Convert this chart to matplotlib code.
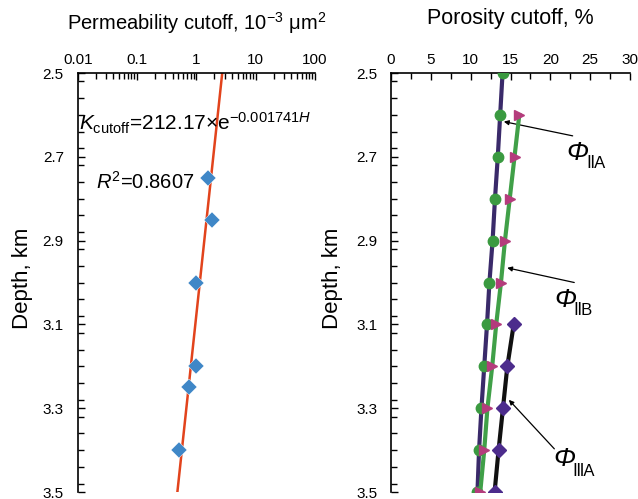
import numpy as np
import matplotlib
matplotlib.use("Agg")
import matplotlib.pyplot as plt
from matplotlib.ticker import MultipleLocator, LogLocator, FixedLocator, NullFormatter

plt.rcParams['font.family'] = ['Liberation Sans', 'DejaVu Sans']
plt.rcParams['mathtext.fontset'] = 'custom'
plt.rcParams['mathtext.rm'] = 'Liberation Sans'
plt.rcParams['mathtext.it'] = 'Liberation Sans:italic'

# permeability cutoff samples (depth km, 10^-3 um^2)
perm_depth = [2.75, 2.85, 3.00, 3.20, 3.25, 3.40]
perm_cutoff = [1.57, 1.82, 0.98, 1.00, 0.75, 0.51]

# exponential fit K = a * exp(-b * H), H in m
fit_a = 212.17
fit_b = 0.001741
fit_r2 = 0.8607

# porosity cutoff curves (depth km, %)
depth_IIA = [2.5, 2.6, 2.7, 2.8, 2.9, 3.0, 3.1, 3.2, 3.3, 3.4, 3.5]
phi_IIA = [14.0, 13.7, 13.4, 13.05, 12.75, 12.35, 12.05, 11.7, 11.35, 11.05, 10.85]
depth_IIB = [2.6, 2.7, 2.8, 2.9, 3.0, 3.1, 3.2, 3.3, 3.4, 3.5]
phi_IIB = [16.1, 15.5, 14.9, 14.3, 13.8, 13.2, 12.7, 12.1, 11.7, 11.2]
depth_IIIA = [3.1, 3.2, 3.3, 3.4, 3.5]
phi_IIIA = [15.4, 14.6, 14.05, 13.5, 13.0]

fig = plt.figure(figsize=(6.38, 4.99), dpi=100)
ax1 = fig.add_axes([0.1218, 0.014, 0.3719, 0.8397])
ax2 = fig.add_axes([0.6129, 0.014, 0.3746, 0.8397])

for ax in (ax1, ax2):
    ax.spines['right'].set_visible(False)
    ax.spines['bottom'].set_visible(False)
    ax.spines['top'].set_linewidth(1.2)
    ax.spines['left'].set_linewidth(1.2)
    ax.xaxis.tick_top()
    ax.set_ylim(3.5, 2.5)
    ax.yaxis.set_major_locator(FixedLocator([2.5, 2.7, 2.9, 3.1, 3.3, 3.5]))
    ax.yaxis.set_minor_locator(MultipleLocator(0.04))
    ax.tick_params(which='both', direction='in', labelsize=11, width=1)
    ax.tick_params(which='major', length=5)
    ax.tick_params(which='minor', length=4)
    ax.tick_params(axis='y', pad=10)
    ax.tick_params(axis='x', pad=4)
    ax.set_ylabel('Depth, km', fontsize=16)

ax1.yaxis.set_label_coords(-0.19, 0.51)
ax2.yaxis.set_label_coords(-0.2, 0.51)

# permeability panel
H = np.linspace(2500, 3500, 200)
ax1.plot(fit_a * np.exp(-fit_b * H), H / 1000, color='#E2431C', lw=1.8, zorder=2)
ax1.plot(perm_cutoff, perm_depth, 'D', color='#3F87C7', ms=8, mec='white', mew=0.3, zorder=3)
ax1.set_xscale('log')
ax1.set_xlim(0.01, 100)
ax1.xaxis.set_minor_locator(LogLocator(base=10, subs=np.arange(2, 10)))
ax1.xaxis.set_minor_formatter(NullFormatter())
ax1.set_xticks([0.01, 0.1, 1, 10, 100])
ax1.set_xticklabels(['0.01', '0.1', '1', '10', '100'])
ax1.set_title('Permeability cutoff, 10$^{-3}$ μm$^2$', fontsize=14.5, pad=31)
ax1.text(0.0105, 2.62, r'$K_{\rm cutoff}$=%.2f×e$^{-%.6f\mathit{H}}$' % (fit_a, fit_b),
         fontsize=15, va='center', ha='left')
ax1.text(0.0204, 2.76, r'$R^2$=%.4f' % fit_r2, fontsize=14.5, va='center', ha='left')

# porosity panel
ax2.plot(phi_IIA, depth_IIA, '-', color='#3A2A6A', lw=3, zorder=2)
ax2.plot(phi_IIA, depth_IIA, 'o', color='#3A9A40', ms=7.5, zorder=3)
ax2.plot(phi_IIB, depth_IIB, '-', color='#40A048', lw=3, zorder=4)
ax2.plot(phi_IIB, depth_IIB, '>', color='#B43C7C', ms=7.5, zorder=5)
ax2.plot(phi_IIIA, depth_IIIA, '-', color='#111111', lw=3, zorder=6)
ax2.plot(phi_IIIA, depth_IIIA, 'D', color='#4C2C8C', ms=7, zorder=7)
ax2.set_xlim(0, 30)
ax2.xaxis.set_major_locator(MultipleLocator(5))
ax2.xaxis.set_minor_locator(MultipleLocator(2.5))
ax2.set_title('Porosity cutoff, %', fontsize=15.5, pad=35)

arrow = dict(arrowstyle='-|>', color='black', lw=0.9, mutation_scale=7, shrinkA=0, shrinkB=0)
ax2.annotate('', xy=(14.16, 2.616), xytext=(22.8, 2.65), arrowprops=arrow)
ax2.annotate('', xy=(14.58, 2.965), xytext=(23.0, 3.0), arrowprops=arrow)
ax2.annotate('', xy=(14.79, 3.28), xytext=(20.5, 3.397), arrowprops=arrow)


def phi_label(x, y, sub, dy):
    ax2.text(x, y, 'Φ', fontsize=19, style='italic', va='baseline')
    ax2.annotate(sub, xy=(x, y), xytext=(14, -dy), textcoords='offset points',
                 fontsize=12, va='baseline')


phi_label(22.05, 2.708, 'ⅡA', 6)
phi_label(20.5, 3.058, 'ⅡB', 6)
phi_label(20.37, 3.438, 'ⅢA', 7)

fig.savefig('out.png', dpi=100)
